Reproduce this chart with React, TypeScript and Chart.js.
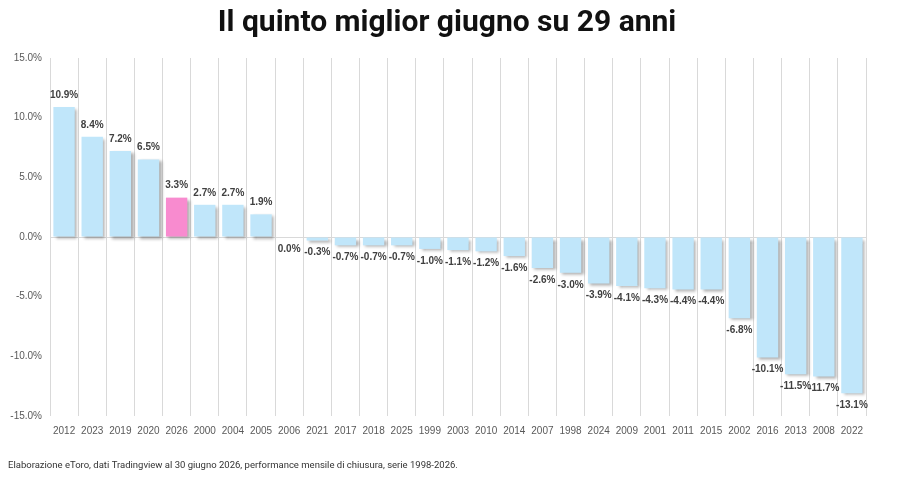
import React, { useEffect, useRef } from "react";
import { Chart, registerables } from "chart.js";

Chart.register(...registerables);

const titleText = "Il quinto miglior giugno su 29 anni";
const footerText =
  "Elaborazione eToro, dati Tradingview al 30 giugno 2026, performance mensile di chiusura, serie 1998-2026.";

const years = [
  "2012", "2023", "2019", "2020", "2026", "2000", "2004", "2005", "2006", "2021",
  "2017", "2018", "2025", "1999", "2003", "2010", "2014", "2007", "1998", "2024",
  "2009", "2001", "2011", "2015", "2002", "2016", "2013", "2008", "2022",
];

const juneReturns = [
  10.9, 8.4, 7.2, 6.5, 3.3, 2.7, 2.7, 1.9, 0.0, -0.3,
  -0.7, -0.7, -0.7, -1.0, -1.1, -1.2, -1.6, -2.6, -3.0, -3.9,
  -4.1, -4.3, -4.4, -4.4, -6.8, -10.1, -11.5, -11.7, -13.1,
];

const highlightYear = "2026";
const yTicks = [-15, -10, -5, 0, 5, 10, 15];

const BLUE = "#C0E6FA";
const PINK = "#F88BCF";

// Soft drop shadow behind every bar
const barShadow = {
  id: "barShadow",
  beforeDatasetsDraw(chart: any) {
    const ctx = chart.ctx;
    ctx.save();
    ctx.shadowColor = "rgba(0,0,0,0.32)";
    ctx.shadowOffsetX = 2.5;
    ctx.shadowOffsetY = 2;
    ctx.shadowBlur = 3;
  },
  afterDatasetsDraw(chart: any) {
    chart.ctx.restore();
  },
};

// Percentage labels above positive bars, below the rest
const valueLabels = {
  id: "valueLabels",
  afterDatasetsDraw(chart: any) {
    const ctx = chart.ctx;
    const meta = chart.getDatasetMeta(0);
    ctx.save();
    ctx.font = "bold 10px 'Liberation Sans', Arial, sans-serif";
    ctx.fillStyle = "#404040";
    ctx.textAlign = "center";
    ctx.textBaseline = "middle";
    meta.data.forEach((bar: any, i: number) => {
      const v = juneReturns[i];
      const y = v > 0 ? bar.y - 12 : bar.y + 12;
      ctx.fillText(v.toFixed(1) + "%", bar.x, y);
    });
    ctx.restore();
  },
};

// Heading and source note
const headings = {
  id: "headings",
  afterDraw(chart: any) {
    const ctx = chart.ctx;
    ctx.save();
    ctx.fillStyle = "#111111";
    ctx.textAlign = "center";
    ctx.textBaseline = "middle";
    ctx.font = "bold 30px Roboto, sans-serif";
    ctx.fillText(titleText, chart.width / 2 - 3, 23);
    ctx.fillStyle = "#333333";
    ctx.textAlign = "left";
    ctx.font = "9.5px Roboto, sans-serif";
    ctx.fillText(footerText, 8, 466);
    ctx.restore();
  },
};

export default function App() {
  const canvasRef = useRef<HTMLCanvasElement | null>(null);

  useEffect(() => {
    if (!canvasRef.current) return;
    const chart = new Chart(canvasRef.current, {
      type: "bar",
      data: {
        labels: years,
        datasets: [
          {
            data: juneReturns,
            backgroundColor: years.map((y) => (y === highlightYear ? PINK : BLUE)),
            borderWidth: 0,
            barPercentage: 0.76,
            categoryPercentage: 1,
          },
        ],
      },
      options: {
        animation: false,
        responsive: false,
        maintainAspectRatio: false,
        layout: { padding: { left: 8, right: 34, top: 58, bottom: 41 } },
        plugins: {
          legend: { display: false },
          title: { display: false },
          tooltip: { enabled: false },
        },
        scales: {
          x: {
            grid: {
              display: true,
              offset: true,
              color: "#D9D9D9",
              lineWidth: 1,
              drawTicks: false,
            },
            border: { display: false },
            ticks: {
              color: "#595959",
              font: { family: "'Liberation Sans', Arial, sans-serif", size: 10 },
              padding: 9,
              autoSkip: false,
              maxRotation: 0,
            },
            afterFit: (scale: any) => {
              scale.height = 26;
            },
          },
          y: {
            min: -15,
            max: 15,
            afterBuildTicks: (scale: any) => {
              scale.ticks = yTicks.map((value) => ({ value }));
            },
            grid: {
              display: true,
              drawTicks: false,
              color: (c: any) => (c.tick && c.tick.value === 0 ? "#D9D9D9" : "rgba(0,0,0,0)"),
            },
            border: { display: false },
            ticks: {
              color: "#595959",
              font: { family: "'Liberation Sans', Arial, sans-serif", size: 10 },
              padding: 8,
              callback: (v: any) => Number(v).toFixed(1) + "%",
            },
            afterFit: (scale: any) => {
              scale.width = 42;
            },
          },
        },
      },
      plugins: [barShadow, valueLabels, headings],
    });
    return () => chart.destroy();
  }, []);

  return (
    <div style={{ position: "fixed", left: 0, top: 0, width: 900, height: 483, background: "#ffffff" }}>
      <canvas ref={canvasRef} width={900} height={483} style={{ width: 900, height: 483 }} />
    </div>
  );
}
